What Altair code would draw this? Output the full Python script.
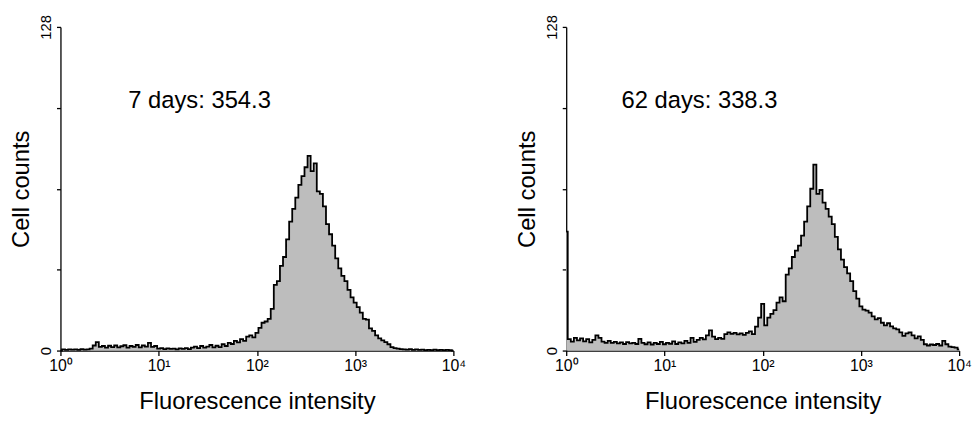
import altair as alt
import pandas as pd

# ---------------- data ----------------
CH_PER_DECADE = 32  # histogram channels per decade (log display, 10^0 .. 10^4)

counts_7d = [
    0, 0.5, 0.3, 0.5, 0.4, 0.5, 0.3, 0.6, 0.4, 0.5,
    0.8, 2.0, 3.3, 1.5, 1.8, 1.2, 1.9, 1.4, 2.0, 1.3,
    1.7, 2.1, 1.2, 1.8, 1.5, 2.2, 1.3, 2.0, 1.6, 3.0,
    1.5, 1.8, 0.8, 1.0, 0.6, 0.9, 0.7, 0.8, 0.5, 0.9,
    0.7, 1.0, 0.6, 1.2, 1.6, 1.0, 1.8, 1.2, 1.6, 2.2,
    1.3, 1.9, 1.4, 2.5, 1.8, 3.0, 2.6, 3.8, 3.2, 4.5,
    3.8, 5.5, 6.0, 5.2, 7.0, 9.0, 11.0, 11.5, 12.5, 16.5,
    26.0, 27.5, 33.5, 37.0, 44.0, 51.0, 56.0, 60.5, 65.5, 69.0,
    72.5, 77.0, 71.0, 74.0, 63.0, 62.0, 57.0, 50.0, 46.0, 41.5,
    36.5, 32.5, 29.5, 27.5, 24.0, 21.0, 19.0, 17.2, 15.0, 12.5,
    12.2, 8.8, 7.8, 6.0, 4.8, 4.0, 3.3, 2.5, 1.4, 1.0,
    0.8, 0.6, 0.5, 0.4, 0.6, 0.3, 0.5, 0.3, 0.4, 0.2,
    0.3, 0.2, 0.4, 0.2, 0.3, 0.2, 0.3, 0.2, 0,
]

counts_62d = [
    47.0, 4.5, 3.5, 5.0, 4.0, 4.8, 3.6, 4.5, 3.2, 4.2,
    6.0, 5.0, 3.5, 3.0, 3.8, 3.0, 3.4, 2.8, 3.2, 2.6,
    3.3, 2.8, 3.0, 2.6, 4.6, 3.0, 2.5, 3.2, 2.4, 3.0,
    2.6, 3.4, 2.5, 3.0, 2.7, 3.6, 2.6, 3.2, 2.8, 3.8,
    3.0, 5.0, 3.4, 4.2, 5.0, 4.4, 6.0, 8.0, 5.5, 4.5,
    5.0, 4.6, 6.5, 7.2, 6.6, 7.0, 6.4, 6.8, 6.2, 7.0,
    7.6, 6.5, 9.5, 13.0, 18.5, 10.0, 13.0, 14.5, 16.0, 19.0,
    21.0, 19.5, 30.0, 32.5, 37.0, 39.5, 41.5, 45.5, 51.0, 57.0,
    64.0, 73.5, 62.0, 63.5, 58.5, 56.0, 53.0, 50.0, 45.0, 40.0,
    36.0, 33.0, 30.5, 27.5, 23.5, 20.5, 17.5, 16.2, 15.8, 15.0,
    13.5, 12.3, 12.8, 11.0, 10.0, 10.8, 9.6, 8.8, 8.4, 7.2,
    5.8, 6.8, 7.2, 6.0, 4.8, 5.6, 4.2, 2.5, 2.0, 2.4,
    2.2, 2.6, 2.0, 3.8, 2.5, 1.6, 1.4, 1.2, 0.5,
]

panel_labels = ["7 days: 354.3", "62 days: 338.3"]
label_x = [4.9, 3.66]
label_y = [98.5, 98.5]

x_ticks = [1, 10, 100, 1000, 10000]
x_tick_labels = ["10⁰", "10¹", "10²", "10³", "10⁴"]
y_ticks = [0, 32, 64, 96, 128]
y_tick_labels = ["0", "", "", "", "128"]

FONT = "Liberation Sans"


def label_expr(values, labels):
    expr = "''"
    for v, l in reversed(list(zip(values, labels))):
        expr = f"datum.value == {v} ? '{l}' : ({expr})"
    return expr


x_expr = label_expr(x_ticks, x_tick_labels)
y_expr = label_expr(y_ticks, y_tick_labels)


def panel(counts, label, lx, ly):
    df = pd.DataFrame({
        "intensity": [10 ** (i / CH_PER_DECADE) for i in range(len(counts))],
        "count": counts,
    })
    x = alt.X(
        "intensity:Q",
        scale=alt.Scale(type="log", domain=[1, 10000], nice=False),
        axis=alt.Axis(
            values=x_ticks, labelExpr=x_expr, title="Fluorescence intensity",
            grid=False, tickSize=5, labelPadding=2, titlePadding=17,
            labelFontSize=16, labelFlush=False,
        ),
    )
    y = alt.Y(
        "count:Q",
        scale=alt.Scale(domain=[0, 128], nice=False),
        axis=alt.Axis(
            values=y_ticks, labelExpr=y_expr, title="Cell counts", grid=False,
            tickSize=4, labelAngle=270, labelAlign="center", labelBaseline="bottom",
            labelPadding=3, titlePadding=5, labelFontSize=15, labelFlush=False,
        ),
    )
    base = alt.Chart(df)
    area = base.mark_area(interpolate="step", color="#bdbdbd").encode(x=x, y=y)
    line = base.mark_line(interpolate="step", color="black", strokeWidth=1.8).encode(
        x="intensity:Q", y="count:Q"
    )
    tdf = pd.DataFrame({"x": [lx], "y": [ly], "t": [label]})
    text = alt.Chart(tdf).mark_text(
        align="left", baseline="middle", fontSize=24, font=FONT, color="black"
    ).encode(x="x:Q", y="y:Q", text="t:N")
    return alt.layer(area, line, text).properties(width=397, height=327)


left = panel(counts_7d, panel_labels[0], label_x[0], label_y[0])
right = panel(counts_62d, panel_labels[1], label_x[1], label_y[1])

chart = (
    alt.hconcat(left, right, spacing=50)
    .properties(padding={"left": 2, "top": 4, "right": 0, "bottom": 0})
    .configure_view(stroke=None)
    .configure_axis(
        domainColor="black", tickColor="black", labelColor="black",
        titleColor="black", labelFont=FONT, titleFont=FONT,
        labelFontSize=15, titleFontSize=24,
        titleFontWeight="normal", domainWidth=1.3, tickWidth=1.3,
    )
)

chart.save("out.html", embed_options={"renderer": "svg", "actions": False})
